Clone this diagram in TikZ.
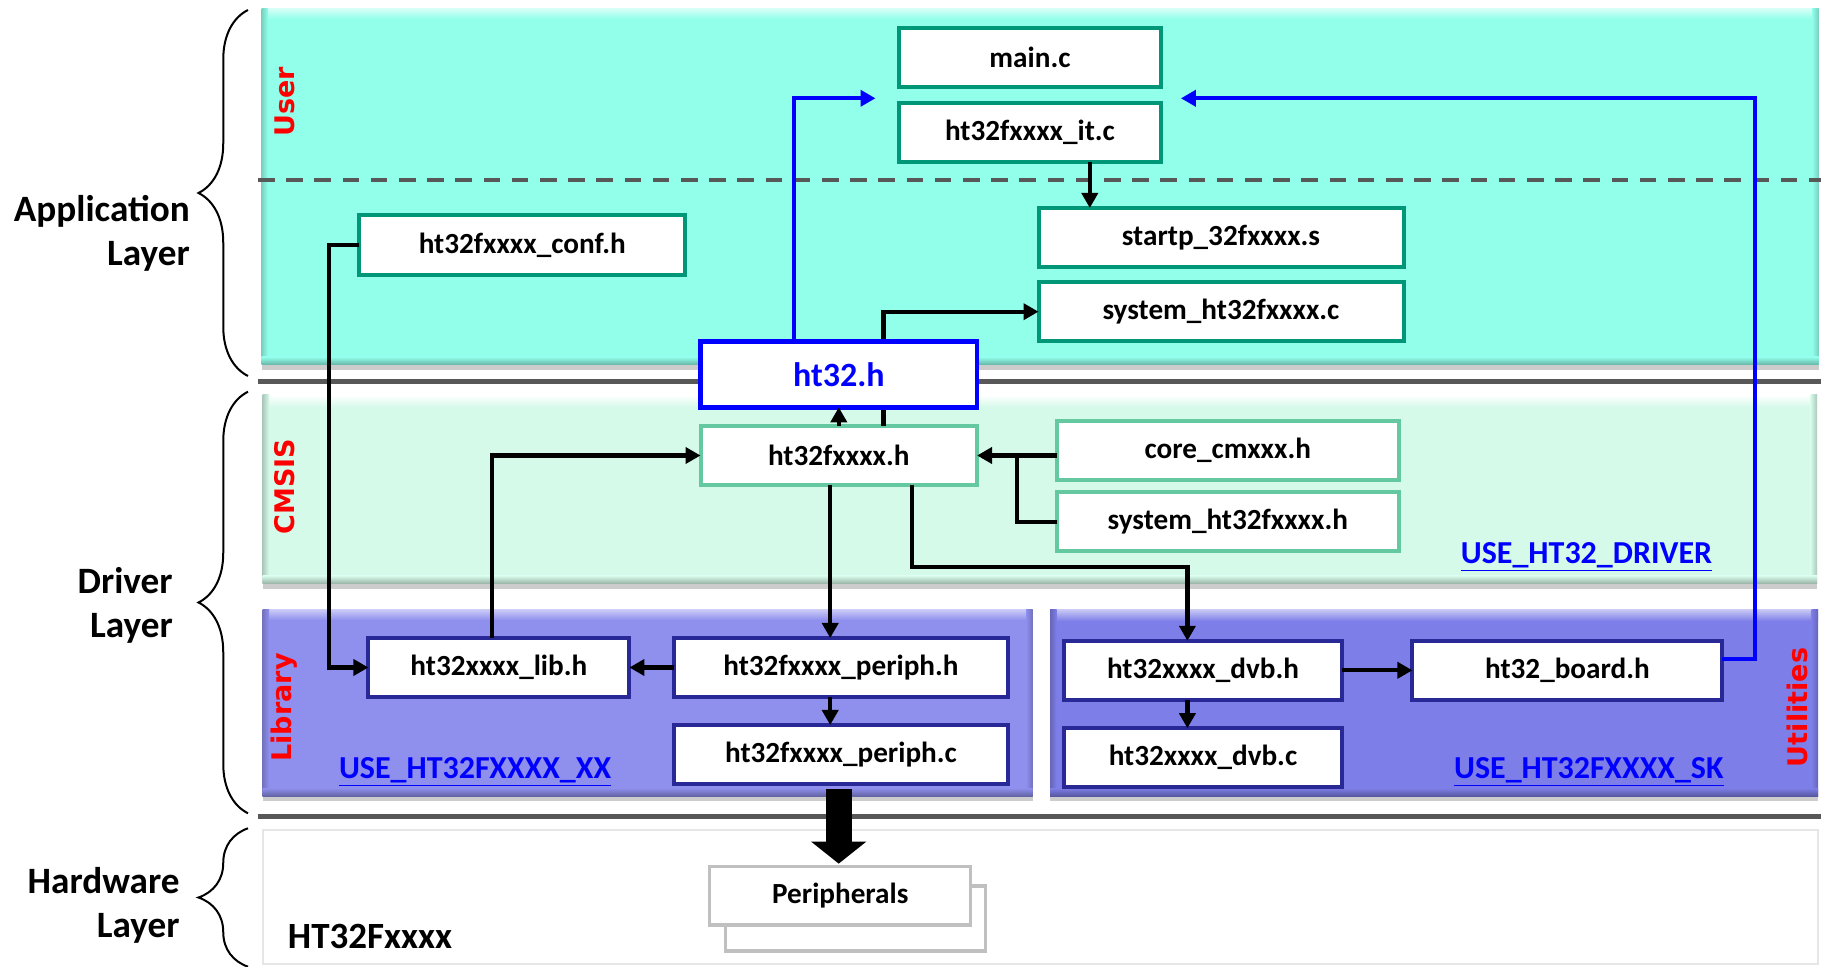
\documentclass[tikz,border=0pt]{standalone}
\usepackage{fontspec}
\setmainfont{Carlito}
\newfontfamily\vfont{DejaVu Sans}
\usetikzlibrary{arrows.meta,calc,shadows,decorations.pathreplacing}

\definecolor{appfill}{RGB}{145,255,234}
\definecolor{cmsisfill}{RGB}{214,250,234}
\definecolor{libfill}{RGB}{143,143,238}
\definecolor{utilfill}{RGB}{126,126,232}
\definecolor{appborder}{RGB}{0,150,120}
\definecolor{cmsisborder}{RGB}{100,200,160}
\definecolor{navyborder}{RGB}{40,40,150}
\definecolor{sepgray}{RGB}{88,88,88}
\definecolor{pgray}{RGB}{192,192,192}
\definecolor{hwborder}{RGB}{230,230,230}
\definecolor{pureblue}{RGB}{0,0,255}
\definecolor{purered}{RGB}{255,0,0}

\begin{document}
\begin{tikzpicture}[x=0.5pt,y=-0.5pt,
  every node/.style={inner sep=0pt, outer sep=0pt},
  filebox/.style={draw, fill=white, line width=2pt, font=\bfseries\fontsize{14.6}{16}\selectfont, minimum height=29.5pt},
  appbox/.style={filebox, draw=appborder},
  cmsisbox/.style={filebox, draw=cmsisborder},
  libbox/.style={filebox, draw=navyborder},
  pbox/.style={filebox, draw=pgray, line width=1.6pt},
  conn/.style={line width=2.1pt, -{Triangle[length=7.5pt,width=8pt]}},
  plainconn/.style={line width=2.1pt},
  blueconn/.style={conn, line width=1.9pt, draw=pureblue},
  bigarrow/.style={line width=13pt, -{Triangle[length=11pt,width=27pt]}},
  sep/.style={draw=sepgray, line width=2.5pt},
  panel/.style={fill=#1, drop shadow={shadow xshift=0pt,shadow yshift=-2.5pt,opacity=0.4}},
  layertext/.style={font=\bfseries\fontsize{18.6}{22}\selectfont, align=right, anchor=east},
  redlabel/.style={font=\vfont\bfseries\fontsize{13.5}{15}\selectfont, text=purered, rotate=90},
  uselabel/.style={font=\bfseries\fontsize{16}{18}\selectfont, text=pureblue, anchor=base},
  bracestyle/.style={decorate, decoration={brace, amplitude=24.75pt}, line width=1pt}
]
\useasboundingbox (0,0) rectangle (1821,967);
\fill[white] (0,0) rectangle (1821,967);

% panels (fill, top highlight, side and bottom bevels)
\path[panel=appfill] (261.5,8.3) rectangle (1818.5,365);
\shade[top color=appfill!35!white, bottom color=appfill] (261.5,8.3) rectangle (1818.5,19);
\shade[left color=appfill!82!black, right color=appfill] (261.5,8.3) rectangle (268,365);
\shade[left color=appfill, right color=appfill!82!black] (1812,8.3) rectangle (1818.5,365);
\shade[top color=appfill, bottom color=appfill!70!black] (261.5,357) rectangle (1818.5,365);

\path[panel=cmsisfill] (262.5,395) rectangle (1817,584);
\shade[top color=white, bottom color=cmsisfill] (262.5,395) rectangle (1817,407);
\shade[left color=cmsisfill!80!black, right color=cmsisfill] (262.5,395) rectangle (269,584);
\shade[left color=cmsisfill, right color=cmsisfill!80!black] (1810.5,395) rectangle (1817,584);
\shade[top color=cmsisfill, bottom color=cmsisfill!70!black] (262.5,576) rectangle (1817,584);

\path[panel=libfill] (262.5,609.3) rectangle (1032.5,796);
\shade[top color=libfill!45!white, bottom color=libfill] (262.5,609.3) rectangle (1032.5,620);
\shade[left color=libfill!80!black, right color=libfill] (262.5,609.3) rectangle (269,796);
\shade[left color=libfill, right color=libfill!80!black] (1026,609.3) rectangle (1032.5,796);
\shade[top color=libfill, bottom color=libfill!70!black] (262.5,788) rectangle (1032.5,796);

\path[panel=utilfill] (1050,610) rectangle (1818,796);
\shade[top color=utilfill!45!white, bottom color=utilfill] (1050,610) rectangle (1818,621);
\shade[left color=utilfill!80!black, right color=utilfill] (1050,610) rectangle (1056.5,796);
\shade[left color=utilfill, right color=utilfill!80!black] (1811.5,610) rectangle (1818,796);
\shade[top color=utilfill, bottom color=utilfill!70!black] (1050,788) rectangle (1818,796);

\path[draw=hwborder, line width=1pt, fill=white] (262.5,829.5) rectangle (1818,964);

% separators
\draw[sepgray, line width=2pt, dash pattern=on 8.3pt off 5.8pt] (258,180) -- (1821,180);
\draw[sep] (258,381.7) -- (1821,381.7);
\draw[sep] (258,816) -- (1821,816);

% braces and layer labels
\draw[bracestyle] (248,376) -- (248,10);
\draw[bracestyle] (248,813.3) -- (248,391.7);
\draw[bracestyle] (248,966.7) -- (248,828.3);
\node[layertext] (lapp) at (189.7,233.5) {Application\\Layer};
\node[layertext] (ldrv) at (172.7,605) {Driver\\Layer};
\node[layertext] (lhw) at (179.5,905.5) {Hardware\\Layer};

% red section labels
\node[redlabel] (luser) at (285.3,101.7) {User};
\node[redlabel] (lcmsis) at (285,486.7) {CMSIS};
\node[redlabel] (llib) at (284.6,707.5) {Library};
\node[redlabel] (lutil) at (1797.9,707.5) {Utilities};

% coordinates for connector routes
\coordinate (bl) at (875.5,98.3);
\coordinate (br) at (1180.9,98.3);
\coordinate (bcorner) at (1755,98.3);
\coordinate (bstart) at (1755,659);
\coordinate (jblue) at (793.6,0);
\coordinate (jit) at (1089.8,0);
\coordinate (jsys) at (883.4,0);
\coordinate (jlib) at (492.2,0);
\coordinate (jcore) at (1016.8,0);
\coordinate (jconf) at (328.6,0);
\coordinate (jper) at (830.2,0);
\coordinate (jdvb1) at (911.7,566.7);
\coordinate (jdvb2) at (1187.4,566.7);
\coordinate (jbig) at (838.7,0);

% file boxes
\node[appbox, minimum width=131.25pt] (main) at (1030,57.8) {main.c};
\node[appbox, minimum width=131.25pt] (it) at (1030,132.7) {ht32fxxxx\_it.c};
\node[appbox, minimum width=182.5pt] (startp) at (1221,237.5) {startp\_32fxxxx.s};
\node[appbox, minimum width=182.5pt] (sysc) at (1221,311.7) {system\_ht32fxxxx.c};
\node[appbox, minimum width=162.9pt, minimum height=30pt] (conf) at (522.3,245) {ht32fxxxx\_conf.h};
\node[cmsisbox, minimum width=138.25pt] (ht32f) at (838.8,455.5) {ht32fxxxx.h};
\node[cmsisbox, minimum width=171.25pt] (core) at (1227.8,450.4) {core\_cmxxx.h};
\node[cmsisbox, minimum width=171.25pt] (sysh) at (1227.8,521.7) {system\_ht32fxxxx.h};
\node[libbox, minimum width=130.5pt] (lib) at (498.9,667.5) {ht32xxxx\_lib.h};
\node[libbox, minimum width=166.7pt] (periphh) at (841,667.5) {ht32fxxxx\_periph.h};
\node[libbox, minimum width=166.7pt] (periphc) at (841,754.5) {ht32fxxxx\_periph.c};
\node[libbox, minimum width=138.75pt] (dvbh) at (1203,670.3) {ht32xxxx\_dvb.h};
\node[libbox, minimum width=138.75pt] (dvbc) at (1203,757.7) {ht32xxxx\_dvb.c};
\node[libbox, minimum width=155pt] (board) at (1567.4,670.3) {ht32\_board.h};
\node[pbox, minimum width=130.2pt, minimum height=32.5pt] (pback) at (855.4,918.5) {};
\node[pbox, minimum width=130.5pt, minimum height=29.15pt] (periph) at (840.3,895.8) {Peripherals};

% connectors
\draw[conn] (ht32f.north -| jsys) |- (sysc.west);
\draw[blueconn] (board.east |- bstart) -- (bstart) -- (bcorner) -- (br);
\draw[conn] (it.south -| jit) -- (startp.north -| jit);
\draw[conn] (lib.north -| jlib) |- (ht32f.west);
\draw[conn] (core.west |- ht32f.east) -- (ht32f.east);
\draw[plainconn] (sysh.west) -| (jcore |- ht32f.east);
\draw[conn] (conf.west) -- (conf.west -| jconf) |- (lib.west);
\draw[conn] (ht32f.south -| jper) -- (periphh.north -| jper);
\draw[conn] (ht32f.south -| jdvb1) -- (jdvb1) -- (jdvb2) -- (dvbh.north -| jdvb2);
\draw[conn] (periphh.west) -- (lib.east);
\draw[conn] (periphh.south -| jper) -- (periphc.north -| jper);
\draw[conn] (dvbh.south -| jdvb2) -- (dvbc.north -| jdvb2);
\draw[conn] (dvbh.east) -- (board.west);
\draw[bigarrow, shorten <=2.5pt, shorten >=1.5pt] (periphc.south -| jbig) -- (periph.north -| jbig);

% ht32.h on top of the line that passes behind it
\node[filebox, draw=pureblue, line width=2.3pt, text=pureblue, font=\bfseries\fontsize{17}{19}\selectfont, minimum width=138.25pt, minimum height=32.8pt] (ht32) at (838.8,374.5) {ht32.h};
\draw[blueconn] (ht32.north -| jblue) |- (bl);
\draw[conn] (ht32f.north) -- (ht32.south);

% other texts
\node[font=\bfseries\fontsize{18.5}{20}\selectfont, anchor=west] (chip) at (287.9,936.7) {HT32Fxxxx};
\node[uselabel] (udrv) at (1586.5,563.6) {\underline{USE\_HT32\_DRIVER}};
\node[uselabel] (uxx) at (475.1,778) {\underline{USE\_HT32FXXXX\_XX}};
\node[uselabel] (usk) at (1588.8,778.6) {\underline{USE\_HT32FXXXX\_SK}};
\end{tikzpicture}
\end{document}
